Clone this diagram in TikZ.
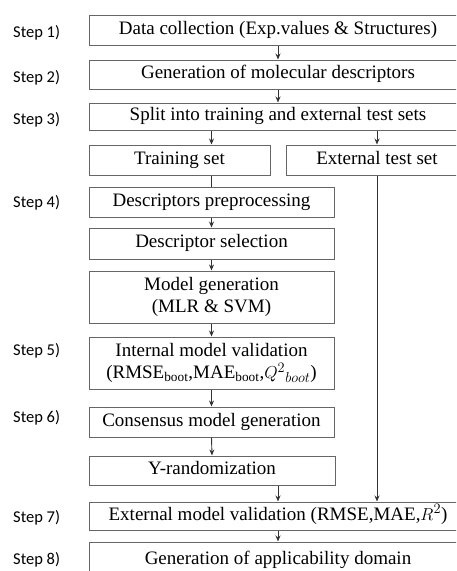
\documentclass[tikz,border=0pt]{standalone}
\usepackage{xcolor}
\usepackage{amsmath}
\usepackage{fontspec}
\setmainfont{Liberation Serif}
\newfontfamily\stepfont{Carlito}
\usepackage{tikz}
\usetikzlibrary{arrows.meta}

\begin{document}
\begin{tikzpicture}[x=1pt, y=-1pt,
    box/.style={draw=black!60, line width=1pt, inner sep=0pt, align=center,
        font=\fontsize{19}{21.5}\selectfont},
    linebox/.style={box, text height=12.5pt, text depth=4.5pt},
    steplbl/.style={anchor=west, inner sep=0pt, font=\stepfont\fontsize{16.5}{18}\selectfont},
    arr/.style={draw=black!80, line width=0.9pt, -{Stealth[length=6pt,width=5pt]}},
    plain/.style={draw=black!80, line width=0.9pt}]
            \useasboundingbox (0,0) rectangle (456,571);
            \clip (0,0) rectangle (456,571);
            \node[linebox, minimum width=378, minimum height=29.5] (data) at (278,30.5)
            {Data collection (Exp.values \& Structures)};
            \node[linebox, minimum width=378, minimum height=29] (desc) at (278,74.5)
            {Generation of molecular descriptors};
            \node[linebox, minimum width=378, minimum height=27] (split) at (278,116.5)
            {Split into training and external test sets};
            \node[linebox, minimum width=181, minimum height=30] (train) at (179.5,160)
            {Training set};
            \node[linebox, minimum width=182, minimum height=30] (test) at (377,160)
            {External test set};
            \node[linebox, minimum width=245, minimum height=30] (prep) at (211.5,202)
            {Descriptors preprocessing};
            \node[linebox, minimum width=245, minimum height=31] (sel) at (211.5,243.5)
            {Descriptor selection};
            \node[box, minimum width=245, minimum height=52] (gen) at (211.5,297)
            {Model generation\\(MLR \& SVM)};
            \node[box, minimum width=245, minimum height=52] (intval) at (211.5,363)
            {Internal model validation\\(RMSE\textsubscript{boot},MAE\textsubscript{boot},$Q^{2}{}_{boot}$)};
            \node[linebox, minimum width=245, minimum height=30] (cons) at (211.5,422)
            {Consensus model generation};
            \node[linebox, minimum width=246, minimum height=29] (yrand) at (212,470.5)
            {Y-randomization};
            \node[linebox, minimum width=378, minimum height=28] (extval) at (278,516)
            {External model validation (RMSE,MAE,$R^{2}$)};
            \node[linebox, minimum width=378, minimum height=36] (ad) at (278,560)
            {Generation of applicability domain};
            \foreach \n/\y in {1/33,2/78,3/120,4/203,5/351,6/418,7/518,8/560}
            \node[steplbl] (step\n) at (13,\y) {Step \n)};
            \draw[arr] (data.south) -- (desc.north);
            \draw[arr] (desc.south) -- (split.north);
            \draw[arr] (split.south -| prep.north) -- (train.north -| prep.north);
            \draw[arr] (split.south -| test.north) -- (test.north);
            \draw[plain] (train.south -| prep.north) -- (prep.north);
            \draw[arr] (prep.south) -- (sel.north);
            \draw[arr] (sel.south) -- (gen.north);
            \draw[arr] (gen.south) -- (intval.north);
            \draw[arr] (intval.south) -- (cons.north);
            \draw[arr] (cons.south) -- (yrand.north);
            \draw[arr] (yrand.south -| extval.north) -- (extval.north);
            \draw[arr] (test.south) -- (extval.north -| test.south);
            \draw[arr] (extval.south) -- (ad.north);
        \end{tikzpicture}
\end{document}
